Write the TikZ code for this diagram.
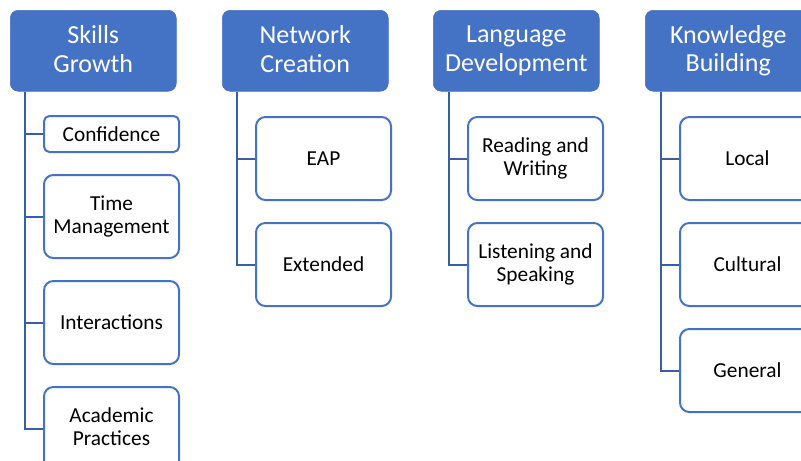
\documentclass[tikz,border=0pt]{standalone}
\usepackage{fontspec}
\setmainfont{Carlito}
\definecolor{themeblue}{HTML}{4472C4}
\definecolor{linkblue}{HTML}{3A5EA6}
\newcommand\themestrut{\rule[-2.7pt]{0pt}{18.7pt}}
\newcommand\codestrut{\rule[-2.5pt]{0pt}{15.5pt}}
\tikzset{
    theme/.style={draw=themeblue,fill=themeblue,text=white,rounded corners=6pt,
        minimum width=166*0.75pt,minimum height=81*0.75pt,inner sep=0pt,align=center,
        anchor=north west,font=\fontsize{19.5}{21.5}\selectfont,
        execute at begin node=\themestrut,execute at end node=\themestrut},
    code/.style={draw=themeblue,fill=white,line width=1.5pt,rounded corners=7pt,
        minimum width=135*0.75pt,minimum height=83*0.75pt,inner sep=0pt,align=center,
        anchor=north west,font=\fontsize{16}{17.6}\selectfont,
        execute at begin node=\codestrut,execute at end node=\codestrut},
    link/.style={draw=linkblue,line width=1.5pt}
}
\begin{document}
\begin{tikzpicture}[x=0.75pt,y=-0.75pt]
    \useasboundingbox (0,0) rectangle (801,461);
    % theme headers
    \node[theme] (skills) at (10,10) {Skills\\Growth};
    \node[theme] (network) at (222,10) {Network\\Creation};
    \node[theme] (language) at (433,10) {Language\\Development};
    \node[theme] (knowledge) at (645,10) {Knowledge\\Building};
    % roots of the trunk lines
    \coordinate (skillsroot) at (25,92);
    \coordinate (networkroot) at (237,92);
    \coordinate (languageroot) at (449,92);
    \coordinate (knowledgeroot) at (661,92);
    % skills growth
    \node[code,minimum height=36*0.75pt,rounded corners=4pt] (confidence) at (43,115) {Confidence};
    \node[code] (time) at (43,174) {Time\\Management};
    \node[code] (interactions) at (43,280) {Interactions};
    \node[code] (academic) at (43,386) {Academic\\Practices};
    % network creation
    \node[code] (eap) at (255,116) {EAP};
    \node[code] (extended) at (255,222) {Extended};
    % language development
    \node[code] (reading) at (467,116) {Reading and\\Writing};
    \node[code] (listening) at (467,222) {Listening and\\Speaking};
    % knowledge building
    \node[code] (local) at (679,116) {Local};
    \node[code] (cultural) at (679,222) {Cultural};
    \node[code] (general) at (679,328) {General};
    % connectors
    \foreach \c in {confidence,time,interactions,academic}
        \draw[link] (skillsroot) |- (\c.west);
    \foreach \c in {eap,extended}
        \draw[link] (networkroot) |- (\c.west);
    \foreach \c in {reading,listening}
        \draw[link] (languageroot) |- (\c.west);
    \foreach \c in {local,cultural,general}
        \draw[link] (knowledgeroot) |- (\c.west);
\end{tikzpicture}
\end{document}
